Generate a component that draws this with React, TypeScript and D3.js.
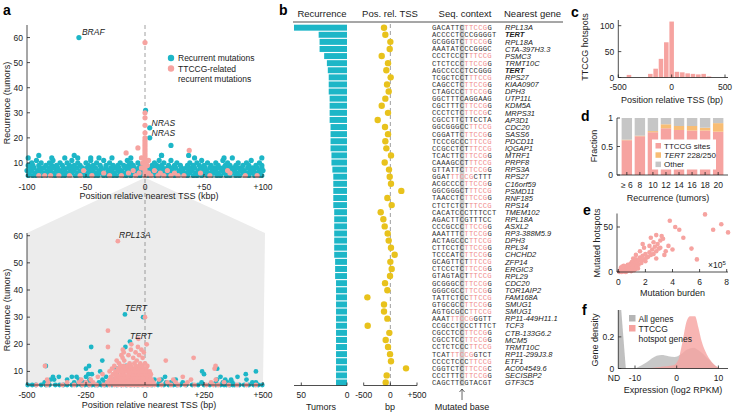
import React from "react";
import * as d3 from "d3";

const TEAL = "#1db6c7";
const PINK = "#f6a3a0";
const YELLOW = "#e8c21c";
const ORANGE = "#f8bd74";
const LIGHT = "#c6c6c6";
const BG = "#ececec";
const INK = "#222";
const SANS = "'Liberation Sans', Arial, Helvetica, sans-serif";
const MONO = "'Liberation Mono', 'DejaVu Sans Mono', monospace";

// ---------- panel a, wide window (kbp) : positions per recurrence level
const wideTealLevels = [5, 6, 7, 8, 9, 10, 11, 12, 13];
const wideTealPos = [
  "-99 -95 -92 -87 -84 -79 -76 -71 -68 -64 -59 -56 -51 -48 -43 -40 -35 -32 -27 -24 -19 -16 -12 -7 -4 1 4 9 12 17 20 25 28 33 36 41 44 48 53 56 61 64 69 72 77 80 85 88 93 96 99",
  "-98 -93 -90 -85 -82 -78 -73 -70 -66 -62 -57 -54 -50 -46 -41 -38 -34 -30 -26 -21 -18 -14 -10 -6 -2 2 6 10 14 18 22 27 30 34 38 43 46 50 54 58 62 67 70 74 78 83 86 90 94 98",
  "-100 -96 -91 -88 -83 -80 -75 -72 -68 -63 -60 -55 -52 -47 -44 -39 -36 -31 -28 -23 -20 -15 -12 -8 -3 0 5 8 13 16 21 24 29 32 37 40 45 48 52 57 60 65 68 73 76 81 84 89 92 97 100",
  "-97 -94 -89 -86 -81 -77 -74 -69 -65 -61 -58 -53 -49 -45 -42 -37 -33 -29 -25 -22 -17 -13 -9 -5 -1 3 7 11 15 19 23 26 31 35 39 42 47 51 55 59 63 66 71 75 79 82 87 91 95 99",
  "-99 -95 -90 -84 -79 -75 -70 -64 -60 -55 -48 -44 -38 -33 -27 -23 -18 -14 -10 -4 0 6 10 14 20 25 30 36 41 46 50 56 62 68 72 77 83 88 94 99",
  "-96 -88 -81 -72 -66 -57 -50 -41 -30 -21 -12 -6 8 16 27 38 44 53 60 70 79 86 97",
  "-92 -78 -62 -46 -35 -15 12 22 48 66 90",
  "-99 -79 -68 -57 -46 -39 -28 -12 42 67 74 99",
  "-90 -60 14 37",
];
const wideTealSingles = "-56,60 4,24 4,20 0.5,31 22,17 14,13";
const widePinkLevels = [5, 6, 7, 8, 9, 10, 11, 12, 13, 14, 15, 16, 17, 18, 19, 20];
const widePinkPos = [
  "-90 -85 -80 -73 -64 -55 -45 -30 -20 -8 0 5 11 16 22 28 33 55 85 95",
  "-35 -14 -5 0 3 13 25 47 72",
  "-52 -10 0 8 19 70",
  "-3 0",
  "0 2",
  "-2 0",
  "0 3",
  "-3 0",
  "0",
  "0",
  "0",
  "0",
  "0",
  "0",
  "0",
  "0",
];
const widePinkSingles = "0,58 0,30 0,28 0,25 0,22 -6,16 -16,14 37.5,15";

// ---------- panel a, zoom window (bp)
const nearTealLevels = [5, 6, 7, 8, 9, 10, 11, 12];
const nearTealPos = [
  "-497 -478 -462 -440 -420 -405 -380 -362 -345 -330 -310 -290 -270 -255 -240 -225 -212 -200 -185 -170 -160 -140 -120 -100 -80 -60 -45 -30 -10 10 30 55 80 100 120 135 150 175 200 225 250 275 300 320 335 345 360 372 380 400 420 440 460 480 497",
  "-425 -410 -300 -260 -245 -230 -195 -170 -150 -110 -75 -40 20 60 90 110 160 240 300 330 350 370 455 470",
  "-400 -385 -330 -280 -235 -180 -130 -90 -70 -20 40 70 130 305 340 365 430",
  "-390 -365 -310 -290 -250 -165 -60 -30 85 320 392",
  "-240 -225 -120 -50 -15 250 427",
  "-190 -95 -35 242 470",
  "-250 -120 306",
  "-420 -237 -80",
];
const nearTealSingles = "-181,14 -228,19 -83,19 -64,21 -8,30 -85,31";
const nearPinkLevels = [5, 6, 7, 8, 9, 10, 11, 12, 13, 14, 15, 16, 17, 18];
const nearPinkPos = [
  "-460 -415 -350 -300 -265 -235 -205 -175 -150 -130 -115 -100 -90 -75 -65 -55 -45 -35 -25 -15 -5 5 15 25 40 70 110 140 170 210 260 290 310 355 390 430 470",
  "-410 -330 -280 -250 -220 -160 -140 -125 -110 -95 -85 -70 -60 -50 -40 -30 -20 -10 0 10 20 35 95 130 180 280 335",
  "-415 -270 -230 -150 -135 -120 -105 -90 -80 -65 -55 -45 -35 -25 -15 -5 5 15 28 60 120 195 300",
  "-200 -145 -125 -110 -95 -85 -75 -60 -50 -40 -30 -20 -10 0 10 22 160",
  "-180 -135 -120 -100 -90 -70 -55 -45 -35 -25 -12 0 12 25",
  "-150 -125 -110 -95 -80 -65 -50 -40 -28 -15 -5 8 20",
  "-140 -115 -100 -85 -70 -55 -45 -30 -20 -5 5 295",
  "-424 -130 -105 -90 -75 -60 -40 -25 -10 10 299",
  "-110 -65 -45 -20 0",
  "-120 -88 -35 88",
  "-95 -50 -10 206",
  "-100 -70 -25",
  "-90 -40 -5",
  "-94 -60 -15",
];
const nearPinkSingles = "-157,19 -30,19 -58,20 7,20 -28,22 -157,25 0,30 -115,58";

// ---------- panel b
const genes = ["RPL13A", "TERT", "RPL18A", "CTA-397H3.3", "PSMC3", "TRMT10C", "TERT", "RPS27", "KIAA0907", "DPH3", "UTP11L", "KDM5A", "MRPS31", "AP3D1", "CDC20", "SASS6", "PDCD11", "IQGAP1", "MTRF1", "PRPF8", "RPS3A", "RPS27", "C16orf59", "PSMD11", "RNF185", "RPS14", "TMEM102", "RPL18A", "ASXL2", "RP3-388M5.9", "DPH3", "RPL34", "CHCHD2", "ZFP14", "ERGIC3", "RPL29", "CDC20", "TOR1AIP2", "FAM168A", "SMUG1", "SMUG1", "RP11-449H11.1", "TCF3", "CTB-133G6.2", "MCM5", "TRMT10C", "RP11-299J3.8", "ETF1", "AC004549.6", "SECISBP2", "GTF3C5"];
const recurrence = [58, 31, 30, 30, 25, 22, 21, 20, 20, 20, 19, 19, 19, 19, 18, 18, 18, 18, 17, 17, 16, 15, 15, 15, 15, 15, 14, 14, 14, 14, 14, 14, 14, 13, 13, 13, 12, 12, 12, 12, 12, 12, 12, 12, 12, 12, 12, 12, 12, 12, 12];
const posTss = [-119, -94, 0, -12, -162, -44, -75, 6, -62, -31, -94, -162, -44, -237, -100, -44, -94, -75, 12, -106, -25, -12, 12, 206, -56, 25, -181, -131, -106, -50, -31, 12, 81, 0, 25, -6, -100, -56, -431, -119, -119, -56, -425, -19, -87, -44, -6, 12, 294, -69, -87];
const seqContext = ["GACATTC[TTCCG]G", "ACCCCTCCCGGGGT", "GCGGGTC[TTCCG]G", "AAATATCCCGGGC", "CCCTCCCT[TTCCG]", "CTCTCCC[TTCCG]G", "AGCCCCCTCCGGG", "TCGCTCCT[TTCCG]", "CAGCCTC[TTCCG]G", "CTAGCCC[TTCCG]G", "GGCTTTCAGGAAG", "CGCTTTC[TTCCG]G", "CCCTCTC[TTCCG]C", "CGCCTTCTTCCTA", "GGCGGGCC[TTCCG]", "CGGATTC[TTCCG]G", "TCCCGCCC[TTCCG]", "CCGCCTCT[TTCCG]", "TCACTTC[TTCCG]G", "CAAAGCCT[TTCCG]", "GTTATTC[TTCCG]G", "GGAT[TTCCG]CTTT", "ACGCCCC[TTCCG]G", "GGCGGGCT[TTCCG]", "TAACCTC[TTCCG]G", "CTCTCTCT[TTCCG]", "CACATCCCTTTCCT", "AGACTTCGTTTCC", "CCCGCCC[TTCCG]G", "AAATTTC[TTCCG]G", "ACTAGCCC[TTCCG]", "CTTCCTC[TTCCG]G", "TCCCATC[TTCCG]G", "GCAGTTCT[TTCCG]", "CTCCCTC[TTCCG]G", "GTAGTACT[TTCCG]", "GCGGGCC[TTCCG]G", "GGGCGCC[TTCCG]G", "TATTCTCC[TTCCG]", "GTGCGCC[TTCCG]G", "AGTGCGCC[TTCCG]", "AAAT[TTCCG]GGTT", "CCGCCTCCCTTTCT", "CGCCTCC[TTCCG]G", "CGCCTCC[TTCCG]G", "CCTCTCCC[TTCCG]", "TCAT[TTCCG]GTCT", "CCCCTCCC[TTCCG]", "CGGTCTC[TTCCG]C", "CCCTTTC[TTCCG]G", "CAGCTTCGTACGT"];

// ---------- panel c
const binCenters = [-400, -200, -150, -100, -50, 0, 50, 100, 150, 200, 250, 300, 350];
const binCounts = [5, 7, 17, 36, 68, 108, 11, 10, 8, 7, 6, 7, 2];

// ---------- panel d
const recCats = ["≥ 6", "8", "10", "12", "14", "16", "18", "20"];
const fracTTCCG = [0.61, 0.68, 0.75, 0.82, 0.79, 0.78, 0.78, 0.76];
const fracTERT = [0.01, 0.01, 0.02, 0.07, 0.07, 0.08, 0.05, 0.15];
const fracOther = [0.38, 0.31, 0.23, 0.11, 0.14, 0.14, 0.17, 0.09];

// ---------- panel e (burden in 1e5, hotspots)
const burdenHotspots = "6.4,64 3.8,57 4.2,50 4.5,47 7.6,53 7.0,47 8.1,44 4.8,38 3.2,40 3.3,37 3.1,35 2.8,41 2.4,38 2.6,33 2.3,29 1.9,27 1.8,31 3.7,29 3.5,23 4.0,25 5.4,26 5.8,14 1.6,23 1.3,19 1.1,15 1.0,11 0.7,8 2.8,23 2.4,19 2.1,16 1.7,13 1.4,10 0.5,6 0.2,4 3.1,27 3.4,19 2.8,15 0.1,0 0.2,1 0.15,2 0.3,1 0.3,3 0.4,2 0.5,4 0.45,1 0.6,3 0.6,6 0.7,2 0.7,5 0.8,4 0.8,7 0.9,6 0.9,9 1.0,3 1.0,8 1.1,5 1.1,10 1.2,7 1.2,12 1.3,9 1.3,14 1.4,11 1.5,8 1.5,13 1.6,16 1.7,10 1.8,18 1.9,14 2.0,20 2.0,12 2.2,17 2.3,22 2.5,25 2.6,20 2.7,28 2.9,31 3.0,26 0.05,0.5 0.25,0 0.35,0.5 0.55,0 0.65,1 0.85,2 0.95,1 1.05,4 1.15,2 1.25,3 1.35,6 1.45,4 0.2,5 0.4,7 0.3,6";

// ---------- panel f
const ndX = [-14, -13.3, -12.2];
const ndY = [0.37, 0.37, 0];
const exprAllX = [-10, -9.6, -7.2, -4.8, -3.6, -2, -0.5, 1, 2.5, 4, 5.5, 7, 8, 9, 10];
const exprAllY = [0, 0.005, 0.04, 0.08, 0.085, 0.078, 0.072, 0.09, 0.12, 0.132, 0.11, 0.075, 0.05, 0.02, 0.004];
const exprHotX = [-7.2, -4, -0.8, 0.4, 1.4, 2.4, 3.2, 4.4, 5.2, 6, 7.2, 8.8, 10.4];
const exprHotY = [0, 0.01, 0.02, 0.055, 0.17, 0.3, 0.33, 0.33, 0.26, 0.17, 0.09, 0.03, 0];

const levelPts = (levels: number[], rows: string[]) =>
  levels.flatMap((lv, i) => rows[i].trim().split(/\s+/).map((v) => [+v, lv]));
const pairPts = (s: string) => s.trim().split(/\s+/).map((p) => p.split(",").map(Number));

const T = (p: any) => <text fontFamily={SANS} fontSize={8.5} fill={INK} {...p} />;

export default function App() {
  // ---- a scales
  const xW = d3.scaleLinear().domain([-100, 100]).range([27, 263]);
  const yW = d3.scaleLinear().domain([4.4, 65]).range([177, 25]);
  const xN = d3.scaleLinear().domain([-500, 500]).range([27, 263]);
  const yN = d3.scaleLinear().domain([5, 61]).range([385, 233]);

  const wTeal = [...levelPts(wideTealLevels, wideTealPos), ...pairPts(wideTealSingles)];
  const wPink = [...levelPts(widePinkLevels, widePinkPos), ...pairPts(widePinkSingles)];
  const nTeal = [...levelPts(nearTealLevels, nearTealPos), ...pairPts(nearTealSingles)];
  const nPink = [...levelPts(nearPinkLevels, nearPinkPos), ...pairPts(nearPinkSingles)];

  // ---- b scales
  const yB = d3.scaleBand<number>().domain(genes.map((_, i) => i)).range([24.7, 385.5]).paddingInner(0.16);
  const xRec = d3.scaleLinear().domain([0, 50]).range([347, 301.3]);
  const xPos = d3.scaleLinear().domain([-500, 500]).range([363.7, 417]);
  const seqX = 432;
  const cw = 4.62;
  const rowMid = (i: number) => (yB(i) as number) + yB.bandwidth() / 2;

  // ---- c
  const xC = d3.scaleLinear().domain([-500, 500]).range([618.3, 725]);
  const yC = d3.scaleLinear().domain([0, 111]).range([77.5, 20]);

  // ---- d
  const xD = d3.scaleBand<string>().domain(recCats).range([619, 726]).padding(0.2);
  const yD = d3.scaleLinear().domain([0, 1]).range([175, 118]);
  const stackRows = recCats.map((c, i) => ({ c, ttccg: fracTTCCG[i], tert: fracTERT[i], other: fracOther[i] }));
  const stacked = d3.stack<any>().keys(["ttccg", "tert", "other"])(stackRows);
  const stackColors = [PINK, ORANGE, LIGHT];

  // ---- e
  const xE = d3.scaleLinear().domain([0, 8]).range([618.3, 726.7]);
  const yE = d3.scaleLinear().domain([0, 65]).range([272, 213.5]);

  // ---- f
  const xF = d3.scaleLinear().domain([-10, 10]).range([635, 718.4]);
  const yF = d3.scaleLinear().domain([0, 0.37]).range([368.5, 310]);
  const areaF = d3
    .area<number[]>()
    .x((d) => xF(d[0]))
    .y0(yF(0))
    .y1((d) => yF(d[1]))
    .curve(d3.curveMonotoneX);
  const ndPath = d3.area<number[]>().x((d) => xF(d[0])).y0(yF(0)).y1((d) => yF(d[1]))(ndX.map((x, i) => [x, ndY[i]]));
  const allPath = areaF(exprAllX.map((x, i) => [x, exprAllY[i]]));
  const hotPath = areaF(exprHotX.map((x, i) => [x, exprHotY[i]]));

  const tk = 3; // inward tick length

  const yAxis = (x: number, y0: number, y1: number, ticks: { v: number; y: number; l: string }[]) => (
    <g>
      <line x1={x} x2={x} y1={y0} y2={y1} stroke={INK} strokeWidth={0.8} />
      {ticks.map((t) => (
        <g key={t.l}>
          <line x1={x} x2={x + tk} y1={t.y} y2={t.y} stroke={INK} strokeWidth={0.8} />
          <T x={x - 4} y={t.y + 3} textAnchor="end">{t.l}</T>
        </g>
      ))}
    </g>
  );
  const xAxis = (y: number, x0: number, x1: number, ticks: { x: number; l: string }[], ly = 9.5) => (
    <g>
      <line x1={x0} x2={x1} y1={y} y2={y} stroke={INK} strokeWidth={0.8} />
      {ticks.map((t) => (
        <g key={t.l}>
          <line x1={t.x} x2={t.x} y1={y} y2={y - tk} stroke={INK} strokeWidth={0.8} />
          <T x={t.x} y={y + ly + 3} textAnchor="middle">{t.l}</T>
        </g>
      ))}
    </g>
  );
  const sgn = (v: number) => (v > 0 ? "+" + v : String(v));
  const arrowX = seqX + 6.5 * cw;

  return (
    <div style={{ position: "absolute", left: 0, top: 0 }}>
      <svg width={735} height={416} style={{ display: "block", background: "#fff" }}>
        {/* ===== panel a ===== */}
        <text x={3} y={15} fontFamily={SANS} fontSize={14} fontWeight="bold">a</text>
        <polygon
          points={`${xW(-0.6)},${yW.range()[0] + 1} ${xW(0.6)},${yW.range()[0] + 1} ${xN.range()[1] + 2},${yN.range()[1]} ${xN.range()[1]},${yN.range()[0]} ${xN.range()[0]},${yN.range()[0]} ${xN.range()[0]},${yN.range()[1]}`}
          fill={BG}
        />
        <line x1={xW(0)} x2={xW(0)} y1={25} y2={385} stroke="#888" strokeWidth={0.8} strokeDasharray="4 3" />
        {wTeal.map((d, i) => <circle key={"wt" + i} cx={xW(d[0])} cy={yW(d[1])} r={2.6} fill={TEAL} />)}
        {wPink.map((d, i) => <circle key={"wp" + i} cx={xW(d[0])} cy={yW(d[1])} r={2.6} fill={PINK} />)}
        {yAxis(27, 25, 177, [10, 20, 30, 40, 50, 60].map((v) => ({ v, y: yW(v), l: String(v) })))}
        {xAxis(177, 27, 263, [-100, -50, 0, 50, 100].map((v) => ({ x: xW(v), l: sgn(v) })))}
        <T x={149} y={199} textAnchor="middle" fontSize={9}>Position relative nearest TSS (kbp)</T>
        <T transform="translate(10,103) rotate(-90)" textAnchor="middle" fontSize={9}>Recurrence (tumors)</T>
        <T x={xW(-56) + 3} y={yW(60) - 3} fontStyle="italic">BRAF</T>
        <T x={151.5} y={125.5} fontStyle="italic">NRAS</T>
        <T x={151.5} y={135.5} fontStyle="italic">NRAS</T>
        <circle cx={171} cy={58} r={3.2} fill={TEAL} />
        <T x={178} y={61}>Recurrent mutations</T>
        <circle cx={171} cy={68.5} r={3.2} fill={PINK} />
        <T x={178} y={71.5}>TTCCG-related</T>
        <T x={178} y={81.5}>recurrent mutations</T>

        {nTeal.map((d, i) => <circle key={"nt" + i} cx={xN(d[0])} cy={yN(d[1])} r={2.4} fill={TEAL} />)}
        {nPink.map((d, i) => <circle key={"np" + i} cx={xN(d[0])} cy={yN(d[1])} r={2.4} fill={PINK} />)}
        {yAxis(27, 233, 385, [10, 20, 30, 40, 50, 60].map((v) => ({ v, y: yN(v), l: String(v) })))}
        {xAxis(385, 27, 263, [-500, -250, 0, 250, 500].map((v) => ({ x: xN(v), l: sgn(v) })))}
        <T x={149} y={408} textAnchor="middle" fontSize={9}>Position relative nearest TSS (bp)</T>
        <T transform="translate(10,310) rotate(-90)" textAnchor="middle" fontSize={9}>Recurrence (tumors)</T>
        <T x={119} y={237.5} fontStyle="italic">RPL13A</T>
        <T x={125} y={311} fontStyle="italic">TERT</T>
        <T x={130} y={339} fontStyle="italic">TERT</T>

        {/* ===== panel b ===== */}
        <text x={279} y={15} fontFamily={SANS} fontSize={14} fontWeight="bold">b</text>
        <T x={322} y={17} textAnchor="middle" fontSize={9.5}>Recurrence</T>
        <T x={390} y={17} textAnchor="middle" fontSize={9.5}>Pos. rel. TSS</T>
        <T x={465} y={17} textAnchor="middle" fontSize={9.5}>Seq. context</T>
        <T x={504} y={17} fontSize={9.5}>Nearest gene</T>
        <line x1={293} x2={563} y1={22} y2={22} stroke={INK} strokeWidth={0.8} />
        {recurrence.map((v, i) => (
          <rect key={"b" + i} x={xRec(v)} y={yB(i)} width={xRec(0) - xRec(v)} height={yB.bandwidth()} fill={TEAL} />
        ))}
        {xAxis(385.5, 294, 347, [50, 0].map((v) => ({ x: xRec(v), l: String(v) })))}
        <T x={321} y={410} textAnchor="middle" fontSize={9}>Tumors</T>
        <line x1={xPos(0)} x2={xPos(0)} y1={24} y2={385} stroke="#888" strokeWidth={0.8} strokeDasharray="4 3" />
        {posTss.map((v, i) => (
          <circle key={"p" + i} cx={xPos(v)} cy={rowMid(i)} r={3.2} fill={YELLOW} />
        ))}
        {xAxis(385.5, 363.7, 417, [-500, 0, 500].map((v) => ({ x: xPos(v), l: sgn(v) })))}
        <T x={390} y={410} textAnchor="middle" fontSize={9}>bp</T>
        <rect x={seqX + 6 * cw} y={24.7} width={cw} height={361} fill="#cfcfcf" />
        {seqContext.map((s, i) => {
          const parts = s.split(/[\[\]]/);
          return (
            <text key={"s" + i} x={seqX} y={rowMid(i) + 2.4} fontFamily={MONO} fontSize={7.2} letterSpacing={0.3} fill="#333">
              {parts.map((p, j) => (
                <tspan key={j} fill={j === 1 ? "#f08c8c" : "#333"}>{p}</tspan>
              ))}
            </text>
          );
        })}
        <path d={`M${arrowX},400 V389 M${arrowX - 2.5},392 L${arrowX},389 L${arrowX + 2.5},392`} stroke={INK} strokeWidth={0.7} fill="none" />
        <T x={arrowX} y={410} textAnchor="middle" fontSize={9}>Mutated base</T>
        {genes.map((g, i) => (
          <T
            key={"g" + i}
            x={505}
            y={rowMid(i) + 2.7}
            fontSize={7.5}
            fontStyle="italic"
            fontWeight={g === "TERT" ? "bold" : "normal"}
          >
            {g}
          </T>
        ))}

        {/* ===== panel c ===== */}
        <text x={571} y={17} fontFamily={SANS} fontSize={14} fontWeight="bold">c</text>
        {binCenters.map((c, i) => (
          <rect key={"h" + i} x={xC(c - 25) + 0.4} y={yC(binCounts[i])} width={xC(c + 25) - xC(c - 25) - 0.8} height={yC(0) - yC(binCounts[i])} fill={PINK} />
        ))}
        {yAxis(618.3, 20, 77.5, [0, 50, 100].map((v) => ({ v, y: yC(v), l: String(v) })))}
        {xAxis(77.5, 618.3, 728, [-500, 0, 500].map((v) => ({ x: xC(v), l: String(v) })))}
        <T x={672} y={103} textAnchor="middle" fontSize={9}>Position relative TSS (bp)</T>
        <T transform="translate(588,47) rotate(-90)" textAnchor="middle" fontSize={9}>TTCCG hotspots</T>

        {/* ===== panel d ===== */}
        <text x={581} y={121} fontFamily={SANS} fontSize={14} fontWeight="bold">d</text>
        {stacked.map((layer, k) =>
          layer.map((d: any, i: number) => (
            <rect key={"d" + k + i} x={xD(recCats[i])} y={yD(d[1])} width={xD.bandwidth()} height={yD(d[0]) - yD(d[1])} fill={stackColors[k]} />
          ))
        )}
        {yAxis(617, 118, 175, [0, 0.5, 1].map((v) => ({ v, y: yD(v), l: String(v) })))}
        {xAxis(175, 617, 728, recCats.map((c) => ({ x: (xD(c) as number) + xD.bandwidth() / 2, l: c })))}
        <rect x={652} y={139.5} width={64} height={30} fill="#fff" />
        <rect x={655.5} y={143} width={5.5} height={5.5} fill={PINK} />
        <T x={664} y={148.5} fontSize={8}>TTCCG sites</T>
        <rect x={655.5} y={152.3} width={5.5} height={5.5} fill={ORANGE} />
        <T x={664} y={157.8} fontSize={8}>
          <tspan fontStyle="italic">TERT</tspan> 228/250
        </T>
        <rect x={655.5} y={161.6} width={5.5} height={5.5} fill={LIGHT} />
        <T x={664} y={167} fontSize={8}>Other</T>
        <T x={668} y={201} textAnchor="middle" fontSize={9}>Recurrence (tumors)</T>
        <T transform="translate(597,146) rotate(-90)" textAnchor="middle" fontSize={9}>Fraction</T>

        {/* ===== panel e ===== */}
        <text x={583} y={215} fontFamily={SANS} fontSize={14} fontWeight="bold">e</text>
        {pairPts(burdenHotspots).map((d, i) => (
          <circle key={"e" + i} cx={xE(d[0])} cy={yE(d[1])} r={2.3} fill={PINK} />
        ))}
        {yAxis(617, 213.5, 272, [0, 50].map((v) => ({ v, y: yE(v), l: String(v) })))}
        {xAxis(272, 617, 728, [0, 2, 4, 6, 8].map((v) => ({ x: xE(v), l: String(v) })))}
        <T x={708} y={268}>
          ×10<tspan dy={-3.5} fontSize={6}>5</tspan>
        </T>
        <T x={672.5} y={296} textAnchor="middle" fontSize={9}>Mutation burden</T>
        <T transform="translate(600,243) rotate(-90)" textAnchor="middle" fontSize={9}>Mutated hotspots</T>

        {/* ===== panel f ===== */}
        <text x={582} y={315} fontFamily={SANS} fontSize={14} fontWeight="bold">f</text>
        <path d={ndPath || ""} fill="#b5b5b5" opacity={0.85} />
        <path d={allPath || ""} fill="#b5b5b5" opacity={0.75} />
        <path d={hotPath || ""} fill={PINK} opacity={0.8} />
        {yAxis(618.3, 310, 368.5, [0, 0.2].map((v) => ({ v, y: yF(v), l: String(v) })))}
        {xAxis(368.5, 618.3, 728, [-10, 0, 10].map((v) => ({ x: xF(v), l: String(v) })))}
        <T x={614} y={381} textAnchor="middle">ND</T>
        <rect x={629} y={315} width={6.5} height={6.5} fill="#b5b5b5" />
        <T x={638.5} y={321.5} fontSize={8.5}>All genes</T>
        <rect x={629} y={325} width={6.5} height={6.5} fill={PINK} />
        <T x={638.5} y={331.5} fontSize={8.5}>TTCCG</T>
        <T x={638.5} y={342} fontSize={8.5}>hotspot genes</T>
        <T x={673} y={393} textAnchor="middle" fontSize={9}>Expression (log2 RPKM)</T>
        <T transform="translate(598,340) rotate(-90)" textAnchor="middle" fontSize={9}>Gene density</T>
      </svg>
    </div>
  );
}
